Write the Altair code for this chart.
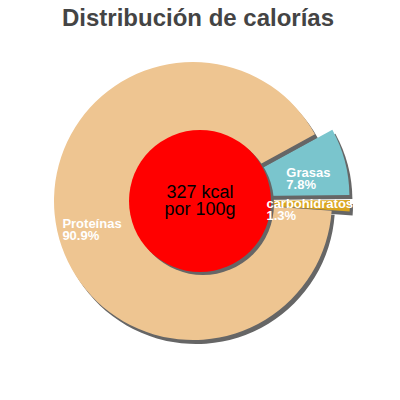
import altair as alt
import pandas as pd

# ---- data ----
categories = ["Grasas", "carbohidratos", "Proteínas"]
percents = [7.8, 1.3, 90.9]
pct_labels = ["7.8%", "1.3%", "90.9%"]
colors = ["#7AC5CD", "#DAA520", "#EEC591"]
exploded = ["Grasas", "carbohidratos"]
kcal = [327]
unit_lines = ["kcal", "por 100g"]
title_text = ["Distribución de calorías"]

slices = pd.DataFrame({
    "name": categories,
    "value": percents,
    "pct": pct_labels,
    "idx": list(range(len(categories))),
})
center = pd.DataFrame({"kcal": kcal, "u1": [unit_lines[0]], "u2": [unit_lines[1]]})
titles = pd.DataFrame({"title": title_text})

# layout constants (chart pixel coordinates)
CX, CY, R = 185, 193, 139       # pie centre and radius
RCX, RCY, RR = 192, 193, 71     # red disc centre and radius
START = 1.07                    # start angle of the first slice (rad)
EXPL = 18                       # explode distance
LAB_R = 110

base = alt.Chart(slices).transform_window(
    cum="sum(value)", sort=[alt.SortField("idx")], frame=[None, 0]
).transform_joinaggregate(
    total="sum(value)"
).transform_calculate(
    a0=f"{START} + 2*PI*(datum.cum - datum.value)/datum.total",
    a1=f"{START} + 2*PI*datum.cum/datum.total",
).transform_calculate(
    mid="(datum.a0 + datum.a1)/2",
    ex=f"indexof({exploded!r}, datum.name) >= 0 ? {EXPL} : 0",
).transform_calculate(
    cx=f"{CX} + datum.ex*sin(datum.mid)",
    cy=f"{CY} - datum.ex*cos(datum.mid)",
    sx=f"{CX} + datum.ex*sin(datum.mid) + 3",
    sy=f"{CY} - datum.ex*cos(datum.mid) + 4",
    label="datum.name + '\\n' + datum.pct",
    lx=f"{RCX} + {LAB_R}*sin(datum.mid) - length(datum.name)*3.35",
    ly=f"{RCY} - {LAB_R}*cos(datum.mid)",
)

shadow = base.mark_arc(radius=R, color="#666666").encode(
    theta=alt.Theta("a0:Q", scale=None),
    theta2="a1:Q",
    x=alt.X("sx:Q", scale=None, axis=None),
    y=alt.Y("sy:Q", scale=None, axis=None),
)

pie = base.mark_arc(radius=R).encode(
    theta=alt.Theta("a0:Q", scale=None),
    theta2="a1:Q",
    x=alt.X("cx:Q", scale=None, axis=None),
    y=alt.Y("cy:Q", scale=None, axis=None),
    color=alt.Color("name:N", scale=alt.Scale(domain=categories, range=colors), legend=None),
)

labels = base.mark_text(
    align="left", baseline="middle", lineBreak="\n", fontSize=13, fontWeight="bold",
    font="Liberation Sans", color="white", lineHeight=12,
).encode(
    x=alt.X("lx:Q", scale=None, axis=None),
    y=alt.Y("ly:Q", scale=None, axis=None),
    text="label:N",
)

cbase = alt.Chart(center)
size = (2 * RR) ** 2

disc_shadow = cbase.mark_circle(size=size, color="#666666", opacity=1).encode(
    x=alt.value(RCX + 3), y=alt.value(RCY + 3)
)
disc = cbase.mark_circle(size=size, color="#FF0000", opacity=1).encode(
    x=alt.value(RCX), y=alt.value(RCY)
)
ctext = cbase.transform_calculate(
    t="datum.kcal + ' ' + datum.u1 + '\\n' + datum.u2"
).mark_text(
    align="center", baseline="middle", lineBreak="\n", fontSize=18,
    font="Liberation Sans", color="black", lineHeight=17,
).encode(
    x=alt.value(RCX), y=alt.value(RCY - 8), text="t:N"
)

title = alt.Chart(titles).mark_text(
    align="center", baseline="alphabetic", fontSize=24, fontWeight="bold",
    font="Liberation Sans", color="#444444",
).encode(
    x=alt.value(190), y=alt.value(18), text="title:N"
)

chart = alt.layer(shadow, pie, disc_shadow, disc, ctext, labels, title).properties(
    width=384, height=384,
    autosize=alt.AutoSizeParams(type="none"),
    padding=0,
).configure_view(strokeWidth=0)

chart.save("out.html", embed_options={"renderer": "svg", "actions": False})
